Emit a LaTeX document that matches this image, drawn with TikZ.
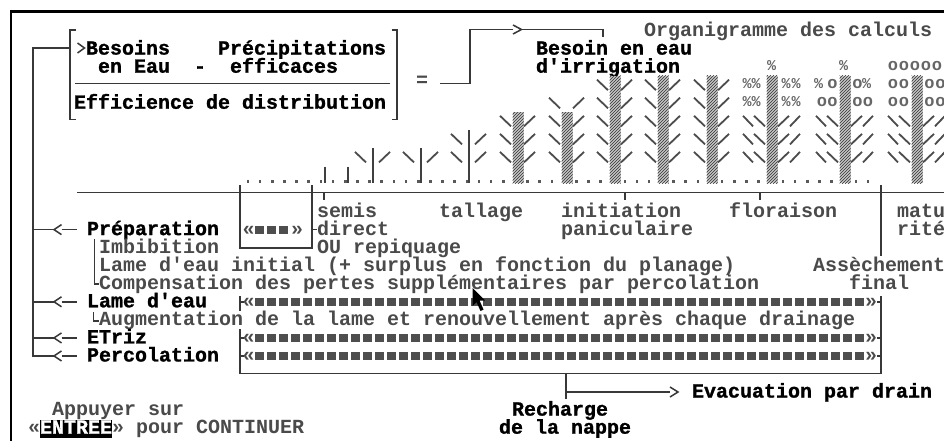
\documentclass[tikz,border=0pt]{standalone}
\usepackage{fontspec}
\setmonofont{Liberation Mono}
\newfontfamily\dosheavy{Liberation Mono}[UprightFont={* Bold}, FakeBold=1.2]
\usetikzlibrary{patterns}
\definecolor{txtgray}{HTML}{4A4A4A}
\definecolor{linegray}{HTML}{383838}
\definecolor{blockgray}{HTML}{4E4E4E}
\newcommand\tfont{\ttfamily\bfseries\fontsize{20}{20}\selectfont}
\newcommand\tfontb{\dosheavy\fontsize{20}{20}\selectfont}
\newcommand\leafL[2]{\draw[leafline] (#1-18,#2+3.5) -- (#1-7,#2+14);}
\newcommand\leafR[2]{\draw[leafline] (#1+6,#2+14) -- (#1+17,#2+3.5);}
\newcommand\leafLL[2]{\draw[leafline] (#1-29,#2+3.5) -- (#1-19,#2+14);}
\newcommand\leafRR[2]{\draw[leafline] (#1+18,#2+14) -- (#1+28,#2+3.5);}
\newcommand\leftarr[1]{\draw[wire] (33,#1) -- (54,#1); \draw[chevron] (61.5,#1-5) -- (54,#1) -- (61.5,#1+5); \draw[wire] (61.5,#1) -- (77,#1);}
\tikzset{
  reg/.style={anchor=base west, inner sep=0pt, outer sep=0pt, font=\tfont, text=txtgray, text height=12pt, text depth=3.5pt},
  bld/.style={anchor=base west, inner sep=0pt, outer sep=0pt, font=\tfontb, text=black, text height=12pt, text depth=3.5pt},
  wire/.style={draw=linegray, line width=1.7pt},
  chevron/.style={draw=linegray, line width=1.5pt},
  leafline/.style={draw=black!70, line width=1.8pt},
  hatchstem/.style={fill=gray!45, postaction={pattern=north east lines, pattern color=black!80}},
  thinstem/.style={draw=black!75, line width=2pt},
  blockfill/.style={fill=blockgray},
  dotfill/.style={fill=black!65},
  pctglyph/.style={anchor=base, inner sep=0pt, font=\ttfamily\bfseries\fontsize{15}{15}\selectfont, text=black!60},
  oglyph/.style={anchor=base, inner sep=0pt, font=\ttfamily\bfseries\fontsize{17}{17}\selectfont, text=black!60},
  guil/.style={anchor=base, inner sep=0pt, font=\tfont, text=txtgray, text height=9pt, text depth=0pt},
}
\begin{document}
\begin{tikzpicture}[x=1pt,y=-1pt]
\clip (0,0) rectangle (944,441);
\fill[white] (0,0) rectangle (944,441);
% frame
\draw[black, line width=2.8pt] (11,441) -- (11,11.5) -- (944,11.5);

% ---------- formula ----------
\node[reg] (title) at (644,36.6) {Organigramme des calculs};
\node[bld] (num1) at (86,54.6) {Besoins~~~~Précipitations};
\node[bld] (num2) at (98,72.7) {en~Eau~~-~~efficaces};
\node[bld] (den) at (74,108.75) {Efficience de distribution};
\node[reg, anchor=center, text height=6pt, text depth=0pt] (eq) at (422,83.5) {=};
\node[bld] (bes1) at (536,54.6) {Besoin en eau};
\node[bld] (bes2) at (536,72.7) {d'irrigation};
\draw[wire] (76,30) -- (70,30) -- (70,119.5) -- (76,119.5);
\draw[wire] (391.5,30) -- (397,30) -- (397,119.5) -- (391.5,119.5);
\draw[wire] (75,83.5) -- (390,83.5);
\draw[wire] (440,83.5) -- (470,83.5) -- (470,29.5) -- (513,29.5);
\draw[chevron] (513,25) -- (521.5,29.5) -- (513,34);
\draw[wire] (522,29.5) -- (603,29.5) -- (603,37.5);

% ---------- left bus ----------
\coordinate (busTop) at (33,48);
\coordinate (busBot) at (33,355.95);
\draw[wire] (70,48) -- (busTop) -- (busBot) -- (54,355.95);
\draw[chevron] (77.5,43) -- (84.5,48) -- (77.5,53);
\leftarr{229.6}
\leftarr{301.8}
\leftarr{337.9}
\draw[chevron] (61.5,350.95) -- (54,355.95) -- (61.5,360.95);
\draw[wire] (61.5,355.95) -- (77,355.95);

\node[bld] (prep) at (87,235.1) {Préparation};
\node[reg] (imbib) at (99,253.15) {Imbibition};
\node[reg] (lameinit) at (99,271.2) {Lame d'eau initial (+ surplus en fonction du planage)};
\node[reg] (compens) at (99,289.25) {Compensation des pertes supplémentaires par percolation};
\node[bld] (lame) at (87,307.3) {Lame d'eau};
\node[reg] (augm) at (99,325.35) {Augmentation de la lame et renouvellement après chaque drainage};
\node[bld] (etriz) at (87,343.4) {ETriz};
\node[bld] (perco) at (87,361.45) {Percolation};
\draw[wire] (94.5,239) -- (94.5,284) -- (99,284);
\draw[wire] (93.5,312) -- (93.5,321) -- (99,321);

% ---------- stages ----------
\node[reg] (semis) at (317,217.05) {semis};
\node[reg] (direct) at (317,235.1) {direct};
\node[reg] (repiq) at (317,253.15) {OU repiquage};
\node[reg] (tallage) at (439,217.05) {tallage};
\node[reg] (init) at (561,217.05) {initiation};
\node[reg] (panic) at (561,235.1) {paniculaire};
\node[reg] (flor) at (729,217.05) {floraison};
\node[reg] (matu) at (897,217.05) {matu};
\node[reg] (rite) at (897,235.1) {rité};
\node[reg] (assech) at (813,271.2) {Assèchement};
\node[reg] (final) at (849,289.25) {final};

% axis and ticks
\draw[wire] (77,192.5) -- (944,192.5);
\foreach \x in {324,625,760} \draw[wire] (\x,192.5) -- (\x,200);
% preparation box
\draw[wire] (240,185) -- (240,247.65) -- (312,247.65) -- (312,185);
\draw[wire] (312,229.6) -- (317,229.6);
% right vertical
\draw[wire] (881,185) -- (881,256);
\draw[wire] (881,296) -- (881,373.5);
% bars box
\draw[wire] (240,296) -- (240,310.5);
\draw[wire] (240,329) -- (240,373.5) -- (881,373.5);

% preparation bar
\node[guil] (pgl) at (248.5,235.1) {«};
\foreach \i in {0,1,2} \fill[blockfill] ({259+12*\i-4.5},225.6) rectangle ++(9,8);
\node[guil] (pgr) at (297,235.1) {»};

% long bars
\foreach \y/\n in {301.8/a,337.9/b,355.95/c} {
  \draw[wire] (240,\y) -- (244,\y);
  \draw[wire] (877,\y) -- (881,\y);
  \node[guil] (gl\n) at (248.5,\y+5.5) {«};
  \foreach \i in {0,...,50} \fill[blockfill] ({259+12*\i-4.5},\y-4) rectangle ++(9,8);
  \node[guil] (gr\n) at (871,\y+5.5) {»};
}

% bottom connector
\draw[wire] (566,373.5) -- (566,399);
\draw[wire] (566,392) -- (670,392);
\draw[chevron] (670,387) -- (678,392) -- (670,397);
\node[bld] (evac) at (692,397.55) {Evacuation par drain};
\node[bld] (rech1) at (512,415.6) {Recharge};
\node[bld] (rech2) at (499,433.65) {de la nappe};

% continue prompt
\node[reg] (appuyer) at (52,415.6) {Appuyer sur};
\fill[black] (40,419.5) rectangle (112,437.5);
\node[bld, text=white] (entree) at (40,433.65) {ENTREE};
\node[reg] (eguil) at (28,433.65) {«};
\node[reg] (cont) at (112,433.65) {» pour CONTINUER};

% ---------- plants ----------
\foreach \k in {0,...,51} \fill[dotfill] ({248+12.157*\k-1.3},179.5) rectangle ++(2.6,3);
\foreach \s in {325,348} \draw[thinstem] (\s,166.5) -- (\s,182.5);
\foreach \s in {373,421} {\draw[thinstem] (\s,148.4) -- (\s,182.5); \leafL{\s}{148.4} \leafR{\s}{148.4}}
\draw[thinstem] (469,130.35) -- (469,182.5);
\foreach \T in {130.35,148.4} {\leafL{469}{\T} \leafR{469}{\T}}
% hatched stems
\foreach \s in {518,567} \fill[hatchstem] (\s-5.5,112.3) rectangle (\s+5.5,183);
\foreach \T in {112.3,130.35,148.4} {\leafL{518}{\T} \leafR{518}{\T}}
\foreach \T in {94.25,112.3,130.35,148.4} {\leafL{567}{\T} \leafR{567}{\T}}
\foreach \s in {615,663,712,772,845,917} \fill[hatchstem] (\s-5.5,76) rectangle (\s+5.5,183);
\foreach \s in {615,663,712} {
  \foreach \T in {76.2,94.25,112.3,130.35,148.4} {\leafL{\s}{\T} \leafR{\s}{\T}}
}
\foreach \s in {772,845,917} {
  \foreach \T in {112.3,130.35,148.4} {\leafL{\s}{\T} \leafR{\s}{\T} \leafLL{\s}{\T} \leafRR{\s}{\T}}
}
% plant 11
\node[pctglyph] (p11a) at (771.5,70.5) {\%};
\foreach \yy/\n in {88.5/a,106.5/b} {
  \node[pctglyph] (p11l1\n) at (747,\yy) {\%};
  \node[pctglyph] (p11l2\n) at (756,\yy) {\%};
  \node[pctglyph] (p11r1\n) at (786,\yy) {\%};
  \node[pctglyph] (p11r2\n) at (796,\yy) {\%};
}
% plant 12
\node[pctglyph] (p12a) at (843.5,70.5) {\%};
\node[pctglyph] (p12b) at (818.5,88.5) {\%};
\node[oglyph] (p12c) at (832.5,88.5) {o};
\node[oglyph] (p12d) at (857.5,88.5) {o};
\node[pctglyph] (p12e) at (866.5,88.5) {\%};
\foreach \x/\n in {822/a,832.5/b,857.5/c,868/d} \node[oglyph] (p12o\n) at (\x,106.5) {o};
% plant 13
\foreach \x/\n in {893/a,904/b,915/c,926/d,937/e} \node[oglyph] (p13t\n) at (\x,70.5) {o};
\foreach \yy/\m in {88.5/a,106.5/b} {
  \foreach \x/\n in {893/a,904/b,929.5/c,940.5/d} \node[oglyph] (p13\m\n) at (\x,\yy) {o};
}

% mouse pointer
\fill[black] (472.5,288) -- (472.5,306) -- (476.5,302) -- (480.5,311) -- (483.5,309.5) -- (479.5,300.5) -- (485,300.5) -- cycle;
\end{tikzpicture}
\end{document}
